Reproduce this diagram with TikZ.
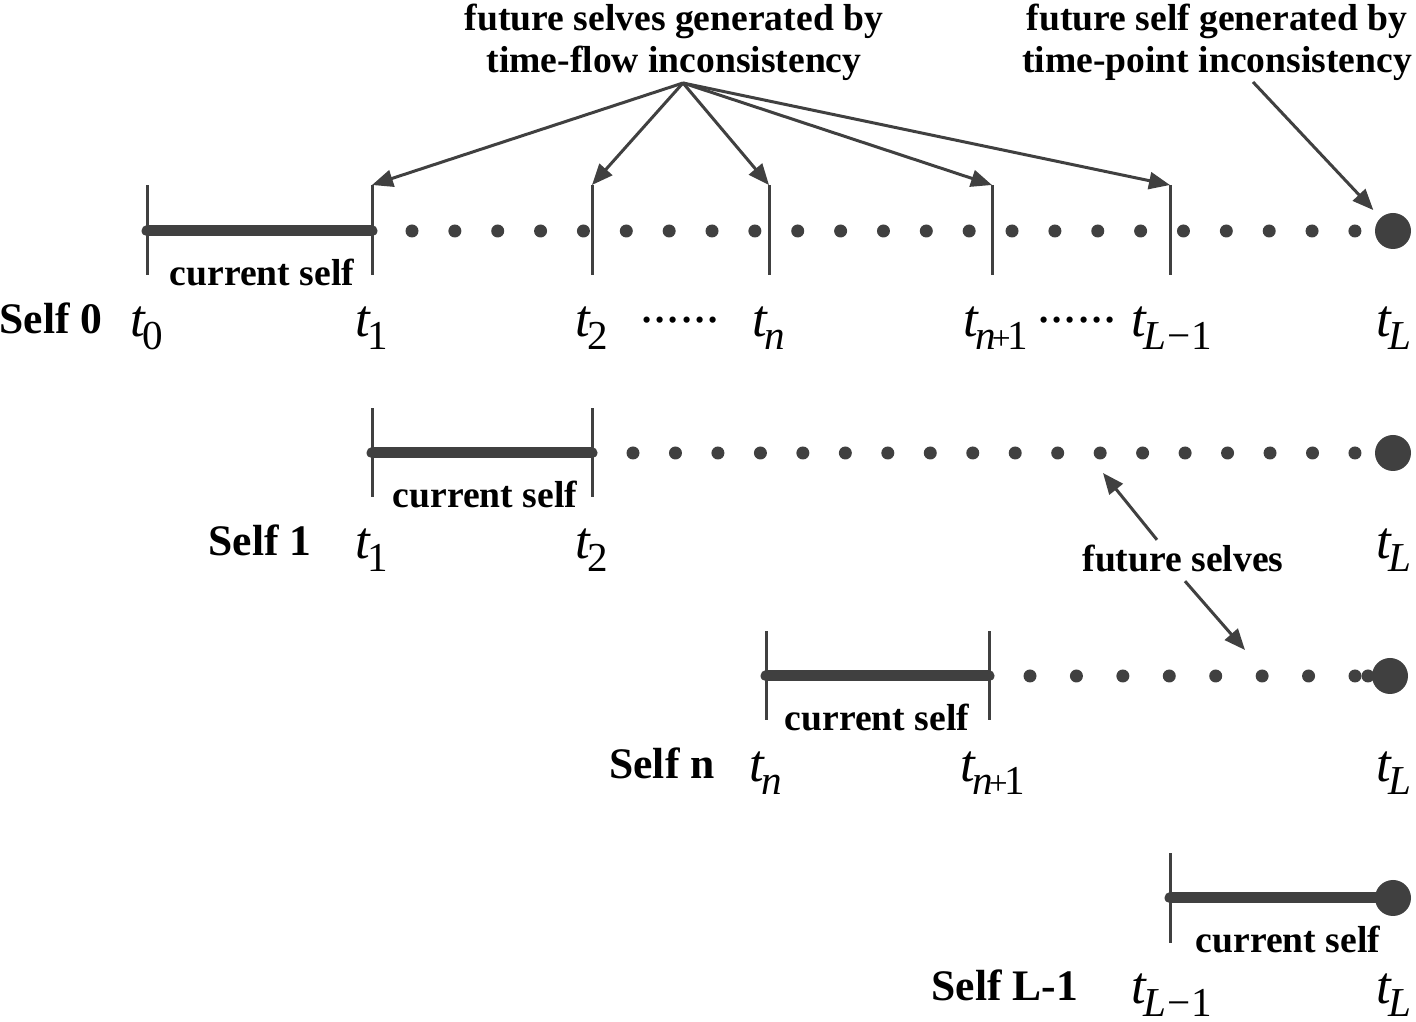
\documentclass[tikz,border=0pt]{standalone}
\usepackage{fontspec}
\setmainfont{Liberation Serif}
\usetikzlibrary{arrows.meta}
\definecolor{linegray}{RGB}{64,64,64}
% t with a subscript
\newcommand{\tsub}[1]{{\fontsize{15}{15}\selectfont\itshape t}\kern-0.03cm\raisebox{-0.13cm}{\fontsize{11.7}{12}\selectfont #1}}
\newcommand{\nplus}{\textit{n}\kern-0.1em{\fontsize{9.5}{10}\selectfont+}\kern-0.08em1}
\newcommand{\lminus}{\textit{L}\kern0.03em−\kern0.03em1}

\begin{document}
\begin{tikzpicture}[x=1cm,y=-1cm,
  tickline/.style={linegray,line width=0.03cm},
  curbar/.style={linegray,line width=0.11cm,line cap=round},
  bigdot/.style={circle,fill=linegray,inner sep=0pt,minimum size=0.36cm},
  pointer/.style={linegray,line width=0.03cm,-{Triangle[length=0.21cm,width=0.17cm]}},
  txt/.style={font=\bfseries\fontsize{10.7}{12}\selectfont,inner sep=0pt},
  selflab/.style={font=\bfseries\fontsize{12.4}{14}\selectfont,inner sep=0pt,anchor=base},
  tlab/.style={inner sep=0pt,anchor=base west}]
  \useasboundingbox (0,0) rectangle (14.16,10.22);

  % Self 0
  \draw[tickline] (1.47,2.75) -- (1.47,1.85);
  \foreach \x/\n in {3.72/a,5.92/b,7.69/c,9.92/d,11.70/e}
    \draw[tickline] (\x,2.75) -- (\x,1.85) coordinate (top\n);
  \draw[curbar] (1.47,2.31) -- (3.72,2.31);
  \foreach \k in {0,...,22}
    \fill[linegray] ({4.12+\k*0.4286},2.31) circle (0.065);
  \node[bigdot] (endA) at (13.93,2.31) {};
  \node[txt,anchor=base] (curA) at (2.62,2.86) {current self};
  \node[selflab] (selfA) at (0.51,3.34) {Self 0};
  \node[tlab] (tA0) at (1.30,3.37) {\tsub{0}};
  \node[tlab] (tA1) at (3.55,3.37) {\tsub{1}};
  \node[tlab] (tA2) at (5.75,3.37) {\tsub{2}};
  \node[tlab] (tAn) at (7.52,3.37) {\tsub{\textit{n}}};
  \node[tlab] (tAm) at (9.63,3.37) {\tsub{\nplus}};
  \node[tlab] (tAl) at (11.31,3.37) {\tsub{\lminus}};
  \node[tlab] (tAL) at (13.76,3.37) {\tsub{\textit{L}}};
  \node[inner sep=0pt,anchor=base,font=\fontsize{15}{15}\selectfont] (dotsA) at (6.80,3.23) {......};
  \node[inner sep=0pt,anchor=base,font=\fontsize{15}{15}\selectfont] (dotsB) at (10.77,3.23) {......};

  % Self 1
  \draw[tickline] (3.72,4.97) -- (3.72,4.08);
  \draw[tickline] (5.92,4.97) -- (5.92,4.08);
  \draw[curbar] (3.72,4.53) -- (5.92,4.53);
  \foreach \k in {0,...,17}
    \fill[linegray] ({6.33+\k*0.4247},4.53) circle (0.065);
  \node[bigdot] (endB) at (13.93,4.53) {};
  \node[txt,anchor=base] (curB) at (4.85,5.08) {current self};
  \node[selflab] (selfB) at (2.60,5.56) {Self 1};
  \node[tlab] (tB1) at (3.55,5.59) {\tsub{1}};
  \node[tlab] (tB2) at (5.75,5.59) {\tsub{2}};
  \node[tlab] (tBL) at (13.76,5.59) {\tsub{\textit{L}}};

  % Self n
  \draw[tickline] (7.66,7.20) -- (7.66,6.31);
  \draw[tickline] (9.89,7.20) -- (9.89,6.31);
  \draw[curbar] (7.66,6.76) -- (9.89,6.76);
  \foreach \k in {0,...,7}
    \fill[linegray] ({10.30+\k*0.4643},6.76) circle (0.065);
  \fill[linegray] (13.68,6.76) circle (0.065);
  \node[bigdot] (endC) at (13.90,6.76) {};
  \node[txt,anchor=base] (curC) at (8.77,7.31) {current self};
  \node[selflab] (selfC) at (6.62,7.79) {Self n};
  \node[tlab] (tCn) at (7.49,7.82) {\tsub{\textit{n}}};
  \node[tlab] (tCm) at (9.60,7.82) {\tsub{\nplus}};
  \node[tlab] (tCL) at (13.76,7.82) {\tsub{\textit{L}}};

  % Self L-1
  \draw[tickline] (11.70,9.43) -- (11.70,8.53);
  \draw[curbar] (11.70,8.98) -- (13.93,8.98);
  \node[bigdot] (endD) at (13.93,8.98) {};
  \node[txt,anchor=base] (curD) at (12.88,9.53) {current self};
  \node[selflab] (selfD) at (10.05,10.01) {Self L-1};
  \node[tlab] (tDl) at (11.31,10.04) {\tsub{\lminus}};
  \node[tlab] (tDL) at (13.76,10.04) {\tsub{\textit{L}}};

  % annotations
  \node[txt,align=center,anchor=north] (flow) at (6.74,0.03)
    {future selves generated by\\time-flow inconsistency};
  \node[txt,align=center,anchor=north] (point) at (12.17,0.03)
    {future self generated by\\time-point inconsistency};
  \node[txt,anchor=base] (fs) at (11.83,5.72) {future selves};
  \coordinate (flowsrc) at (6.83,0.83);
  \coordinate (pointsrc) at (12.53,0.82);
  \coordinate (fsup) at (11.03,4.73);
  \coordinate (fsdown) at (12.45,6.50);
  \foreach \n in {a,b,c,d,e}
    \draw[pointer] (flowsrc) -- (top\n);
  \draw[pointer,shorten >=0.1cm] (pointsrc) -- (endA);
  \draw[pointer] ([xshift=-0.26cm,yshift=0.05cm]fs.north) -- (fsup);
  \draw[pointer] ([xshift=0.02cm,yshift=-0.08cm]fs.south) -- (fsdown);
\end{tikzpicture}
\end{document}
